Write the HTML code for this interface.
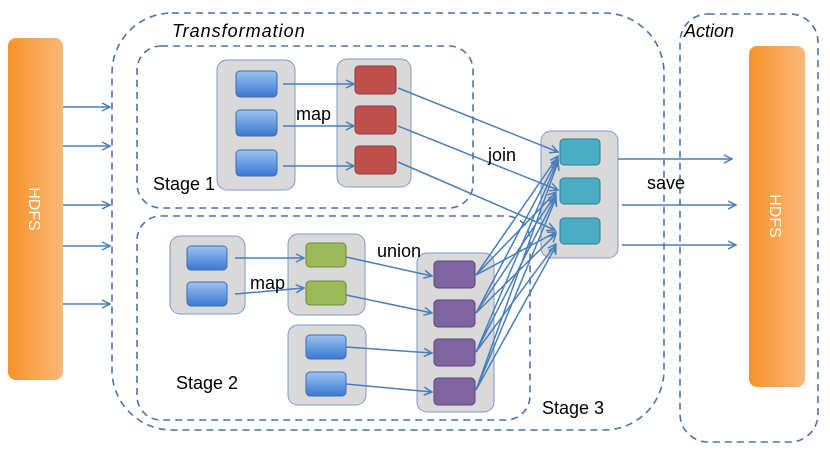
<!DOCTYPE html>
<html><head><meta charset="utf-8"><style>body{margin:0;background:#fff}svg{display:block}</style></head><body>
<svg width="830" height="450" viewBox="0 0 830 450" xmlns="http://www.w3.org/2000/svg" font-family="Liberation Sans, sans-serif">
<defs>
<linearGradient id="or" x1="0" x2="1"><stop offset="0" stop-color="#f7922a"/><stop offset="1" stop-color="#fbb878"/></linearGradient>
<linearGradient id="bl" x1="0" y1="0" x2="0" y2="1"><stop offset="0" stop-color="#9cc3f2"/><stop offset="1" stop-color="#3a78d0"/></linearGradient>
<marker id="a" markerWidth="10" markerHeight="10" refX="9" refY="5" orient="auto" markerUnits="userSpaceOnUse"><path d="M1,1 L9,5 L1,9" fill="none" stroke="#4a7ebb" stroke-width="1.5"/></marker>
</defs>
<g fill="none" stroke="#4a74a8" stroke-width="1.6" stroke-dasharray="7,5">
<rect x="112" y="13" width="552" height="417" rx="60"/>
<rect x="680" y="14" width="138" height="428" rx="28"/>
<rect x="137" y="46" width="336" height="162" rx="24"/>
<rect x="137" y="216" width="393" height="204" rx="24"/>
</g>
<rect x="8" y="38" width="55" height="342" rx="8" fill="url(#or)"/>
<rect x="749" y="46" width="56" height="341" rx="8" fill="url(#or)"/>
<text transform="translate(29,209) rotate(90)" text-anchor="middle" fill="#fff" font-size="16">HDFS</text>
<text transform="translate(770,216) rotate(90)" text-anchor="middle" fill="#fff" font-size="16">HDFS</text>
<g fill="#d9d9d9" stroke="#7a9cc6" stroke-width="1">
<rect x="217" y="60" width="78" height="130" rx="10"/>
<rect x="337" y="59" width="74" height="128" rx="10"/>
<rect x="541" y="131" width="77" height="127" rx="10"/>
<rect x="170" y="236" width="75" height="78" rx="10"/>
<rect x="288" y="234" width="77" height="81" rx="10"/>
<rect x="288" y="325" width="78" height="80" rx="10"/>
<rect x="417" y="253" width="77" height="159" rx="10"/>
</g>
<g fill="url(#bl)" stroke="#3b6fb5">
<rect x="236" y="71" width="41" height="26" rx="4"/><rect x="236" y="110" width="41" height="26" rx="4"/><rect x="236" y="150" width="41" height="26" rx="4"/>
<rect x="187" y="246" width="40" height="24" rx="4"/><rect x="187" y="282" width="40" height="24" rx="4"/>
<rect x="306" y="335" width="40" height="24" rx="4"/><rect x="306" y="372" width="40" height="24" rx="4"/>
</g>
<g fill="#c0504d" stroke="#8c3836"><rect x="355" y="66" width="41" height="28" rx="4"/><rect x="355" y="106" width="41" height="28" rx="4"/><rect x="355" y="146" width="41" height="28" rx="4"/></g>
<g fill="#4bacc6" stroke="#2f7f94"><rect x="560" y="139" width="40" height="26" rx="4"/><rect x="560" y="178" width="40" height="26" rx="4"/><rect x="560" y="218" width="40" height="26" rx="4"/></g>
<g fill="#9bbb59" stroke="#6d8a3b"><rect x="306" y="243" width="40" height="24" rx="4"/><rect x="306" y="281" width="40" height="24" rx="4"/></g>
<g fill="#8064a2" stroke="#5a4576"><rect x="434" y="261" width="41" height="27" rx="4"/><rect x="434" y="300" width="41" height="27" rx="4"/><rect x="434" y="339" width="41" height="27" rx="4"/><rect x="434" y="378" width="41" height="27" rx="4"/></g>
<g stroke="#4a7ebb" stroke-width="1.5" marker-end="url(#a)">
<line x1="63" y1="107" x2="110" y2="107"/><line x1="63" y1="146" x2="110" y2="146"/><line x1="63" y1="205" x2="110" y2="205"/><line x1="63" y1="246" x2="110" y2="246"/><line x1="63" y1="304" x2="110" y2="304"/>
<line x1="283" y1="84" x2="354" y2="84"/><line x1="283" y1="126" x2="354" y2="126"/><line x1="283" y1="166" x2="354" y2="166"/>
<line x1="398" y1="88" x2="558" y2="152"/><line x1="398" y1="126" x2="558" y2="190"/><line x1="398" y1="162" x2="555" y2="230"/>
<line x1="618" y1="159" x2="732" y2="159"/><line x1="622" y1="205" x2="736" y2="205"/><line x1="622" y1="245" x2="736" y2="245"/>
<line x1="235" y1="258" x2="304" y2="258"/><line x1="235" y1="294" x2="304" y2="288"/>
<line x1="346" y1="257" x2="432" y2="276"/><line x1="346" y1="295" x2="432" y2="313"/>
<line x1="346" y1="347" x2="432" y2="353"/><line x1="346" y1="384" x2="432" y2="392"/>
<line x1="476" y1="275" x2="558" y2="156"/><line x1="476" y1="275" x2="556" y2="192"/><line x1="476" y1="275" x2="556" y2="232"/>
<line x1="476" y1="313" x2="558" y2="158"/><line x1="476" y1="313" x2="556" y2="194"/><line x1="476" y1="313" x2="556" y2="234"/>
<line x1="476" y1="352" x2="558" y2="160"/><line x1="476" y1="352" x2="556" y2="196"/><line x1="476" y1="352" x2="556" y2="244"/>
<line x1="476" y1="390" x2="558" y2="162"/><line x1="476" y1="390" x2="556" y2="198"/><line x1="476" y1="390" x2="556" y2="246"/>
</g>
<g fill="#000" font-size="18">
<text x="172" y="37" font-style="italic" font-size="18" letter-spacing="1">Transformation</text>
<text x="684" y="37" font-style="italic">Action</text>
<text x="296" y="120">map</text>
<text x="153" y="190">Stage 1</text>
<text x="488" y="161">join</text>
<text x="647" y="189">save</text>
<text x="377" y="257">union</text>
<text x="250" y="289">map</text>
<text x="176" y="389">Stage 2</text>
<text x="542" y="414">Stage 3</text>
</g>
</svg>
</body></html>
